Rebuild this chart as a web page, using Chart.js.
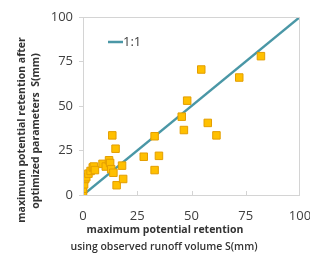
<!DOCTYPE html>
<html>
<head>
<meta charset="utf-8">
<script src="https://cdn.jsdelivr.net/npm/chart.js@4/dist/chart.umd.min.js"></script>
<style>
  body { margin: 0; background: #fff; }
  #wrap { width: 310px; height: 257px; }
</style>
</head>
<body>
<div id="wrap"><canvas id="myChart" width="310" height="257"></canvas></div>
<script>
// observed S (x) vs optimized S (y)
let observedS = [0, 0, 0.5, 1, 1.5, 2.5, 3.5, 4.5, 5, 5.5, 9, 10.5, 12, 12.5, 13, 14,
  13.5, 15, 15.5, 18, 18.5, 28, 33, 33, 35, 45.5, 46.5, 48, 54.5, 57.5, 61.5, 72, 82]
let optimizedS = [1, 3.5, 6, 9, 10, 12, 13.5, 15.5, 16, 14, 17.5, 16, 19.5, 18, 14.5, 12.5,
  33.5, 26, 5.5, 16.5, 9, 21.5, 33, 14, 22, 44, 36.5, 53, 70.5, 40.5, 33.5, 66, 78]
let lineX = [0, 100]
let lineY = [0, 100]
let tickValues = [0, 25, 50, 75, 100]
let legendLabel = "1:1"
let xTitle = ["maximum potential retention", "using observed runoff volume S(mm)"]
let yTitle = ["maximum potential retention after", "optimized parameters  S(mm)"]

const font = "'Open Sans', sans-serif"
const teal = "#4a97a6"

const points = observedS.map((x, i) => ({ x: x, y: optimizedS[i] }))
const line = lineX.map((x, i) => ({ x: x, y: lineY[i] }))

// frame, inner x ticks, legend and axis titles
const extras = {
  id: "extras",
  afterDraw(chart) {
    const ctx = chart.ctx
    const a = chart.chartArea
    const xs = chart.scales.x
    ctx.save()
    ctx.strokeStyle = "#d4d4d4"
    ctx.lineWidth = 1
    ctx.strokeRect(a.left + 0.5, a.top + 0.5, a.right - a.left - 1, a.bottom - a.top)
    tickValues.slice(1, 4).forEach(v => {
      const px = Math.round(xs.getPixelForValue(v)) + 0.5
      ctx.beginPath()
      ctx.moveTo(px, a.bottom)
      ctx.lineTo(px, a.bottom - 4)
      ctx.stroke()
    })

    // legend
    ctx.strokeStyle = teal
    ctx.lineWidth = 2.5
    ctx.beginPath()
    ctx.moveTo(108, 42)
    ctx.lineTo(123, 42)
    ctx.stroke()
    ctx.fillStyle = "#404040"
    ctx.font = "13px " + font
    ctx.textBaseline = "middle"
    ctx.fillText(legendLabel, 123, 42)

    // x title
    ctx.fillStyle = "#333"
    ctx.textAlign = "center"
    ctx.font = "bold 10.5px " + font
    ctx.fillText(xTitle[0], 165, 230)
    ctx.font = "600 10.5px " + font
    ctx.fillText(xTitle[1], 164, 247)

    // y title
    ctx.save()
    ctx.translate(22, 130)
    ctx.rotate(-Math.PI / 2)
    ctx.font = "bold 10.5px " + font
    ctx.fillText(yTitle[0], 0, 0)
    ctx.restore()
    ctx.save()
    ctx.translate(36, 131)
    ctx.rotate(-Math.PI / 2)
    ctx.font = "bold 10.5px " + font
    ctx.fillText(yTitle[1], 0, 0)
    ctx.restore()
    ctx.restore()
  }
}

const config = {
  type: "scatter",
  data: {
    datasets: [
      {
        label: "data",
        data: points,
        pointStyle: "rect",
        pointRadius: 5.3,
        pointHoverRadius: 5.3,
        backgroundColor: "#ffc000",
        borderColor: "#e39e00",
        borderWidth: 1
      },
      {
        label: legendLabel,
        data: line,
        showLine: true,
        pointRadius: 0,
        borderColor: teal,
        borderWidth: 2.5
      }
    ]
  },
  options: {
    responsive: false,
    animation: false,
    layout: { padding: { left: 0, right: 10, top: 17, bottom: 0 } },
    plugins: { legend: { display: false }, tooltip: { enabled: false } },
    scales: {
      x: {
        type: "linear",
        min: 0,
        max: 100,
        afterFit: s => { s.height = 62; s.paddingLeft = 0; s.paddingRight = 0 },
        afterBuildTicks: s => { s.ticks = tickValues.map(v => ({ value: v })) },
        grid: { display: false },
        border: { display: false },
        ticks: { color: "#404040", font: { family: font, size: 13 }, padding: 5, maxRotation: 0 }
      },
      y: {
        type: "linear",
        min: 0,
        max: 100,
        afterFit: s => { s.width = 83; s.paddingTop = 0; s.paddingBottom = 0 },
        afterBuildTicks: s => { s.ticks = tickValues.map(v => ({ value: v })) },
        grid: { drawOnChartArea: false, tickLength: 4, color: "#d4d4d4" },
        border: { display: false },
        ticks: { color: "#404040", font: { family: font, size: 13 }, padding: 6 }
      }
    }
  },
  plugins: [extras]
}

const myChart = new Chart(document.getElementById("myChart"), config)
</script>
</body>
</html>
